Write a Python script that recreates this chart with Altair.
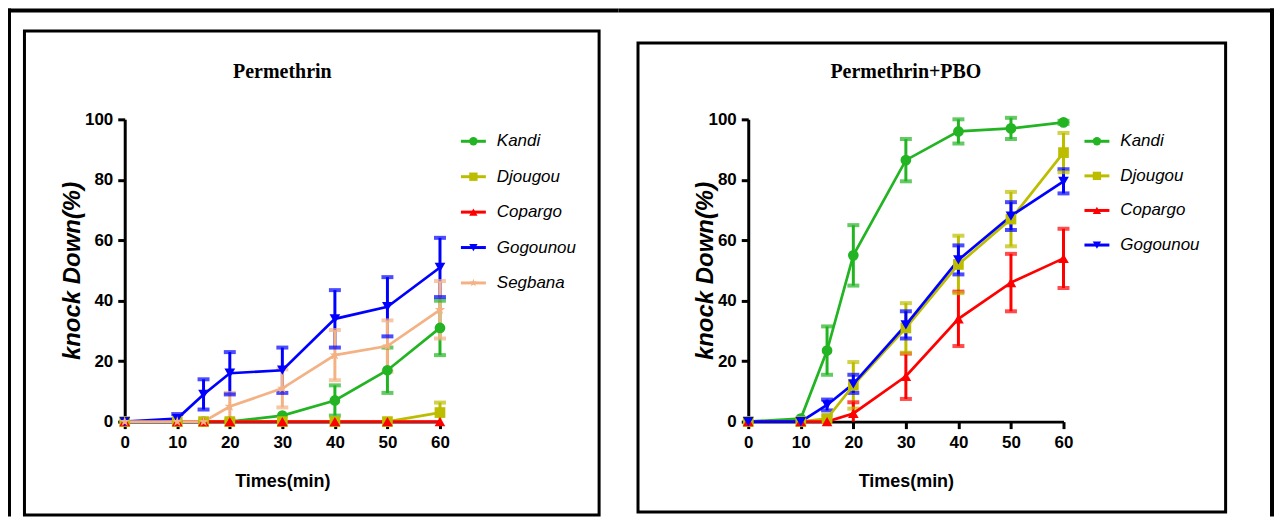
import altair as alt
import pandas as pd

# ---------------- data ----------------
times = [0, 10, 15, 20, 30, 40, 50, 60]

sites_perm = ["Kandi", "Djougou", "Copargo", "Gogounou", "Segbana"]
sites_pbo = ["Kandi", "Djougou", "Copargo", "Gogounou"]

# Permethrin (mean knock-down %, error)
perm_kandi = [0, 0, 0, 0, 2, 7, 17, 31]
perm_kandi_err = [0, 0, 0, 0, 0, 5, 7.5, 9]
perm_djougou = [0, 0, 0, 0, 0, 0, 0, 3]
perm_djougou_err = [0, 0, 0, 0, 0, 0, 0, 3.3]
perm_copargo = [0, 0, 0, 0, 0, 0, 0, 0]
perm_copargo_err = [0, 0, 0, 0, 0, 0, 0, 0]
perm_gogounou = [0, 1, 9, 16, 17, 34, 38, 51]
perm_gogounou_err = [0, 1.5, 5, 7, 7.5, 9.5, 9.8, 9.8]
perm_segbana = [0, 0, 0, 5, 11, 22, 25, 37]
perm_segbana_err = [0, 0, 0, 4.5, 6.3, 8.3, 8.5, 9.5]

# Permethrin + PBO
pbo_kandi = [0, 1, 23.5, 55, 86.5, 96, 97, 99]
pbo_kandi_err = [0, 0, 8, 10, 7, 4, 3.5, 0.5]
pbo_djougou = [0, 0, 1, 12, 31, 52, 67, 89]
pbo_djougou_err = [0, 0, 1, 7.7, 8.2, 9.5, 9, 6.5]
pbo_copargo = [0, 0, 0, 2.7, 15, 34, 46, 54]
pbo_copargo_err = [0, 0, 0, 3.7, 7.5, 9, 9.5, 9.8]
pbo_gogounou = [0, 0, 5.5, 12.5, 32, 53.5, 68, 79.5]
pbo_gogounou_err = [0, 0, 1.8, 3, 4.5, 4.8, 4.6, 4]

y_ticks = [0, 20, 40, 60, 80, 100]
x_ticks = [0, 10, 20, 30, 40, 50, 60]

site_colors = {"Kandi": "#22B422", "Djougou": "#BDBD00", "Copargo": "#FF0000",
               "Gogounou": "#0000FF", "Segbana": "#F4B183"}
STAR = ("M0,-1L0.235,-0.324L0.951,-0.309L0.38,0.124L0.588,0.809L0,0.4"
        "L-0.588,0.809L-0.38,0.124L-0.951,-0.309L-0.235,-0.324Z")
site_shapes = {"Kandi": "circle", "Djougou": "square", "Copargo": "triangle-up",
               "Gogounou": "triangle-down", "Segbana": STAR}

SANS = "Liberation Sans, Arial, sans-serif"


def frame(series):
    rows = []
    for site, vals, errs in series:
        for t, v, e in zip(times, vals, errs):
            rows.append({"time": t, "kd": v, "err": e, "site": site,
                         "lo": max(v - e, 0), "hi": v + e})
    return pd.DataFrame(rows)


df_perm = frame([
    ("Kandi", perm_kandi, perm_kandi_err),
    ("Djougou", perm_djougou, perm_djougou_err),
    ("Copargo", perm_copargo, perm_copargo_err),
    ("Gogounou", perm_gogounou, perm_gogounou_err),
    ("Segbana", perm_segbana, perm_segbana_err),
])
df_pbo = frame([
    ("Kandi", pbo_kandi, pbo_kandi_err),
    ("Djougou", pbo_djougou, pbo_djougou_err),
    ("Copargo", pbo_copargo, pbo_copargo_err),
    ("Gogounou", pbo_gogounou, pbo_gogounou_err),
])

W, H = 316, 303
one = pd.DataFrame({"k": [0]})


def panel(df, sites, title, legend_range, borders, ytitle_x):
    xs = alt.Scale(domain=[0, 60], nice=False)
    ys = alt.Scale(domain=[0, 100], nice=False)
    xa = alt.Axis(values=x_ticks, title="Times(min)", grid=False,
                  labelFont=SANS, labelFontWeight="bold", labelFontSize=17,
                  labelColor="black", labelPadding=6,
                  titleFont=SANS, titleFontWeight="bold", titleFontSize=18,
                  titleColor="black", titlePadding=22,
                  domainColor="black", domainWidth=3, tickColor="black",
                  tickWidth=3, tickSize=7, labelFlush=False)
    ya = alt.Axis(values=y_ticks, title="knock Down(%)", grid=False,
                  labelFont=SANS, labelFontWeight="bold", labelFontSize=17,
                  labelColor="black", labelPadding=5,
                  titleFont=SANS, titleFontWeight="bold",
                  titleFontStyle="italic", titleFontSize=24, titleColor="black",
                  titleX=ytitle_x, titleY=H / 2,
                  domainColor="black", domainWidth=3, tickColor="black",
                  tickWidth=3, tickSize=7, labelFlush=False)
    X = alt.X("time:Q", scale=xs, axis=xa)
    color = alt.Color("site:N", legend=None,
                      scale=alt.Scale(domain=sites, range=[site_colors[s] for s in sites]))
    shape = alt.Shape("site:N", legend=None,
                      scale=alt.Scale(domain=sites, range=[site_shapes[s] for s in sites]))

    errdf = df[df.err > 0]
    lowdf = df[(df.err > 0) & (df.kd - df.err > 0)]

    bars = alt.Chart(errdf).mark_rule(strokeWidth=3).encode(
        x=X, y=alt.Y("lo:Q", scale=ys, axis=ya), y2="hi:Q", color=color)
    cap_hi = alt.Chart(errdf).mark_tick(orient="horizontal", size=12, thickness=4).encode(
        x=X, y=alt.Y("hi:Q", scale=ys, axis=ya), color=color)
    cap_lo = alt.Chart(lowdf).mark_tick(orient="horizontal", size=12, thickness=4).encode(
        x=X, y=alt.Y("lo:Q", scale=ys, axis=ya), color=color)
    line = alt.Chart(df).mark_line(strokeWidth=2.7).encode(
        x=X, y=alt.Y("kd:Q", scale=ys, axis=ya), color=color)
    pts = alt.Chart(df).mark_point(filled=True, size=115, opacity=1).encode(
        x=X, y=alt.Y("kd:Q", scale=ys, axis=ya), color=color, shape=shape)
    data_layer = alt.layer(bars, cap_hi, cap_lo, line, pts)

    leg = pd.DataFrame({"site": sites})
    LY = alt.Y("site:N", axis=None,
               scale=alt.Scale(type="point", domain=sites, range=legend_range, padding=0))
    leg_line = alt.Chart(leg).mark_rule(strokeWidth=3).encode(
        x=alt.value(337), x2=alt.value(362), y=LY, color=color)
    leg_pt = alt.Chart(leg).mark_point(filled=True, size=70, opacity=1).encode(
        x=alt.value(349.5), y=LY, color=color, shape=shape)
    leg_txt = alt.Chart(leg).mark_text(
        align="left", baseline="middle", font=SANS, fontStyle="italic",
        fontSize=17, color="black").encode(x=alt.value(373), y=LY, text="site:N")
    legend_layer = alt.layer(leg_line, leg_pt, leg_txt)

    ttl = alt.Chart(one).mark_text(
        font="Liberation Serif", fontWeight="bold", fontSize=20, color="black",
        baseline="middle", align="center").encode(
        x=alt.value(W / 2), y=alt.value(-47), text=alt.value(title))

    deco = []
    for (x1, x2, y1, y2) in borders["fill"]:
        deco.append(alt.Chart(one).mark_rect(color="black").encode(
            x=alt.value(x1), x2=alt.value(x2), y=alt.value(y1), y2=alt.value(y2)))
    bx = borders["box"]
    deco.append(alt.Chart(one).mark_rect(fill="transparent", stroke="black", strokeWidth=3).encode(
        x=alt.value(bx[0]), x2=alt.value(bx[1]), y=alt.value(bx[2]), y2=alt.value(bx[3])))

    return alt.layer(data_layer, legend_layer, ttl, *deco)\
        .resolve_scale(y="independent")\
        .properties(width=W, height=H)


left = panel(df_perm, sites_perm, "Permethrin", [22, 164], {
    "fill": [(-117, -114, -111, 398), (-117, 495, -111, -107)],
    "box": (-100.5, 475.5, -88.5, 396.5),
}, -40)
right = panel(df_pbo, sites_pbo, "Permethrin+PBO", [22, 126], {
    "fill": [(-130, 527, -111, -107), (523, 527, -111, 398)],
    "box": (-110.5, 478.5, -76.5, 393.5),
}, -31)

chart = alt.hconcat(left, right, spacing=0).properties(padding=0)\
    .configure_view(strokeWidth=0)

chart.save("out.html", embed_options={"renderer": "svg", "actions": False})
